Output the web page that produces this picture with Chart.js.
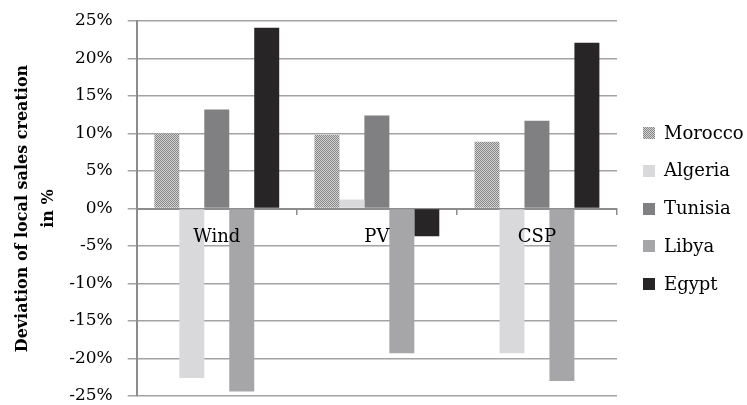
<!DOCTYPE html>
<html>
<head>
<meta charset="utf-8">
<script src="https://cdn.jsdelivr.net/npm/chart.js@4/dist/chart.umd.min.js"></script>
<style>
  html, body { margin: 0; padding: 0; background: #fff; }
  #wrap { width: 747px; height: 405px; position: relative; }
</style>
</head>
<body>
<div id="wrap"><canvas id="c" width="747" height="405"></canvas></div>
<script>
// Technologies on the category axis
const categories = ['Wind', 'PV', 'CSP'];

// Deviation of local sales creation (%) per country
const morocco = [10.0, 9.8, 8.9];
const algeria = [-22.6, 1.2, -19.3];
const tunisia = [13.2, 12.4, 11.7];
const libya   = [-24.4, -19.3, -23.0];
const egypt   = [24.1, -3.7, 22.1];

const seriesNames = ['Morocco', 'Algeria', 'Tunisia', 'Libya', 'Egypt'];

// y-axis range and step (%)
const yMin = -25, yMax = 25, yStep = 5;

// Fine dotted fill used for Morocco
function dotPattern() {
  const p = document.createElement('canvas');
  p.width = 2; p.height = 2;
  const g = p.getContext('2d');
  g.fillStyle = '#d4d4d4'; g.fillRect(0, 0, 2, 2);
  g.fillStyle = '#858585'; g.fillRect(0, 0, 1, 1); g.fillRect(1, 1, 1, 1);
  return g.createPattern(p, 'repeat');
}

const fills = [dotPattern(), '#d9d9db', '#808082', '#a6a6a8', '#272526'];
const values = [morocco, algeria, tunisia, libya, egypt];

const serif = "'DejaVu Serif', serif";

// Legend column to the right of the plot, centred on the plot height
const sideLegend = {
  id: 'sideLegend',
  afterDraw(chart) {
    const { ctx, chartArea } = chart;
    const sets = chart.data.datasets;
    const step = 37.7;
    const box = 12;
    const x = chartArea.right + 26;
    const midY = (chartArea.top + chartArea.bottom) / 2;
    const y0 = midY - step * (sets.length - 1) / 2;
    ctx.save();
    ctx.font = "18px " + serif;
    ctx.textBaseline = 'middle';
    sets.forEach((ds, i) => {
      const y = y0 + i * step;
      ctx.fillStyle = ds.backgroundColor;
      ctx.fillRect(x, Math.round(y - box / 2), box, box);
      ctx.fillStyle = '#000';
      ctx.fillText(ds.label, x + box + 9, y + 1);
    });
    ctx.restore();
  }
};

new Chart(document.getElementById('c'), {
  type: 'bar',
  data: {
    labels: categories,
    datasets: seriesNames.map((name, i) => ({
      label: name,
      data: values[i],
      backgroundColor: fills[i],
      borderWidth: 0,
      categoryPercentage: 0.78,
      barPercentage: 1.0
    }))
  },
  plugins: [sideLegend],
  options: {
    responsive: false,
    animation: false,
    devicePixelRatio: 1,
    layout: { padding: { top: 21, bottom: 9, right: 130, left: 10 } },
    plugins: {
      tooltip: { enabled: false },
      legend: { display: false }
    },
    scales: {
      x: {
        position: { y: 0 },
        // the axis sits on the zero line inside the plot, so it needs no band of its own
        afterFit: s => { s.height = 0; },
        grid: {
          offset: true,
          drawOnChartArea: false,
          drawTicks: true,
          tickLength: 5,
          color: '#8c8c8c',
          lineWidth: 1.5
        },
        border: { display: true, color: '#8c8c8c', width: 2 },
        ticks: {
          z: 1,
          padding: 13,
          color: '#000',
          font: { family: serif, size: 18 }
        }
      },
      y: {
        min: yMin,
        max: yMax,
        // plot height is set by the layout padding alone
        afterFit: s => { s.paddingTop = 0; s.paddingBottom = 0; },
        ticks: {
          stepSize: yStep,
          padding: 15,
          color: '#000',
          font: { family: serif, size: 17 },
          callback: v => v + '%'
        },
        grid: {
          color: '#a3a3a3',
          lineWidth: 1.5,
          drawTicks: true,
          tickLength: 9
        },
        border: { display: true, color: '#8c8c8c', width: 2 },
        title: {
          display: true,
          text: ['Deviation of local sales creation', 'in %'],
          color: '#000',
          font: { family: serif, size: 16, weight: 'bold', lineHeight: 1.6 },
          padding: { top: 0, bottom: -7 }
        }
      }
    }
  }
});
</script>
</body>
</html>
